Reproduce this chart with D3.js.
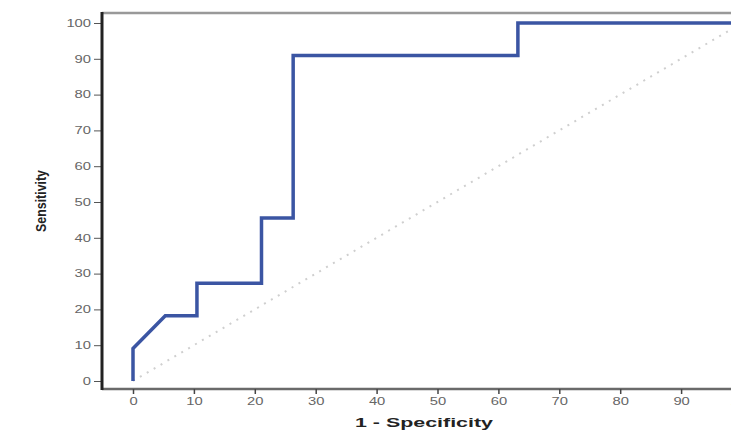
<!DOCTYPE html>
<html>
<head>
<meta charset="utf-8">
<script src="https://cdn.jsdelivr.net/npm/d3@7"></script>
<style>
  body { margin: 0; background: #fff; }
  svg { display: block; font-family: "Liberation Sans", Arial, sans-serif; }
</style>
</head>
<body>
<svg width="731" height="432"></svg>
<script>
// ROC curve points (1 - specificity, sensitivity), in percent
const fpr = [0, 0, 5.3, 10.5, 10.5, 21.1, 21.1, 26.3, 26.3, 63.2, 63.2, 100];
const tpr = [0, 9.1, 18.2, 18.2, 27.3, 27.3, 45.5, 45.5, 90.9, 90.9, 100, 100];
const refLine = [0, 100];
const xTicks = [0, 10, 20, 30, 40, 50, 60, 70, 80, 90, 100];
const yTicks = [0, 10, 20, 30, 40, 50, 60, 70, 80, 90, 100];

const svg = d3.select('svg');

const x = d3.scaleLinear().domain([0, 100]).range([133, 742]);
const y = d3.scaleLinear().domain([0, 100]).range([381, 23]);

const plotLeft = 102, plotTop = 13, plotBottom = 389, plotRight = 760;

// the labels in the picture are drawn wide and short
function widen(sel) {
  sel.attr('fill', '#666')
    .style('font-size', '10px')
    .attr('textLength', d => String(d).length * 8.2)
    .attr('lengthAdjust', 'spacingAndGlyphs');
}

// frame
svg.append('line')
  .attr('x1', plotLeft).attr('x2', plotRight)
  .attr('y1', plotTop).attr('y2', plotTop)
  .attr('stroke', '#999').attr('stroke-width', 2.5);

svg.append('line')
  .attr('x1', plotLeft).attr('x2', plotRight)
  .attr('y1', plotBottom).attr('y2', plotBottom)
  .attr('stroke', '#6a6a6a').attr('stroke-width', 2.5);

// y axis
const yAxis = svg.append('g')
  .attr('transform', `translate(${plotLeft - 1},0)`)
  .call(d3.axisLeft(y).tickValues(yTicks).tickSize(7).tickPadding(3));
yAxis.select('.domain').remove();
yAxis.selectAll('.tick line').attr('stroke', '#555');
yAxis.selectAll('.tick text').call(widen);

svg.append('line')
  .attr('x1', plotLeft).attr('x2', plotLeft)
  .attr('y1', plotTop - 1).attr('y2', plotBottom + 1)
  .attr('stroke', '#222').attr('stroke-width', 3);

// x axis
const xAxis = svg.append('g')
  .attr('transform', `translate(0,${plotBottom})`)
  .call(d3.axisBottom(x).tickValues(xTicks).tickSize(5).tickPadding(4));
xAxis.select('.domain').remove();
xAxis.selectAll('.tick line').attr('stroke', '#444').attr('stroke-width', 1.5);
xAxis.selectAll('.tick text').call(widen);

// reference diagonal
svg.append('line')
  .attr('x1', x(refLine[0])).attr('y1', y(refLine[0]))
  .attr('x2', x(refLine[1])).attr('y2', y(refLine[1]))
  .attr('stroke', '#cfcfcf').attr('stroke-width', 2)
  .attr('stroke-dasharray', '2,6');

// ROC curve
const pts = fpr.map((f, i) => [f, tpr[i]]);
svg.append('path')
  .datum(pts)
  .attr('fill', 'none')
  .attr('stroke', '#3b55a3')
  .attr('stroke-width', 3.5)
  .attr('stroke-linejoin', 'miter')
  .attr('d', d3.line().x(d => x(d[0])).y(d => y(d[1])));

// axis titles
svg.append('text')
  .attr('transform', 'translate(46,201) rotate(-90)')
  .attr('text-anchor', 'middle')
  .attr('textLength', 62)
  .attr('lengthAdjust', 'spacingAndGlyphs')
  .style('font-size', '15px')
  .style('font-weight', 'bold')
  .attr('fill', '#222')
  .text('Sensitivity');

svg.append('text')
  .attr('x', 355).attr('y', 427)
  .attr('textLength', 138)
  .attr('lengthAdjust', 'spacingAndGlyphs')
  .style('font-size', '12px')
  .style('font-weight', 'bold')
  .attr('fill', '#222')
  .text('1 - Specificity');
</script>
</body>
</html>
